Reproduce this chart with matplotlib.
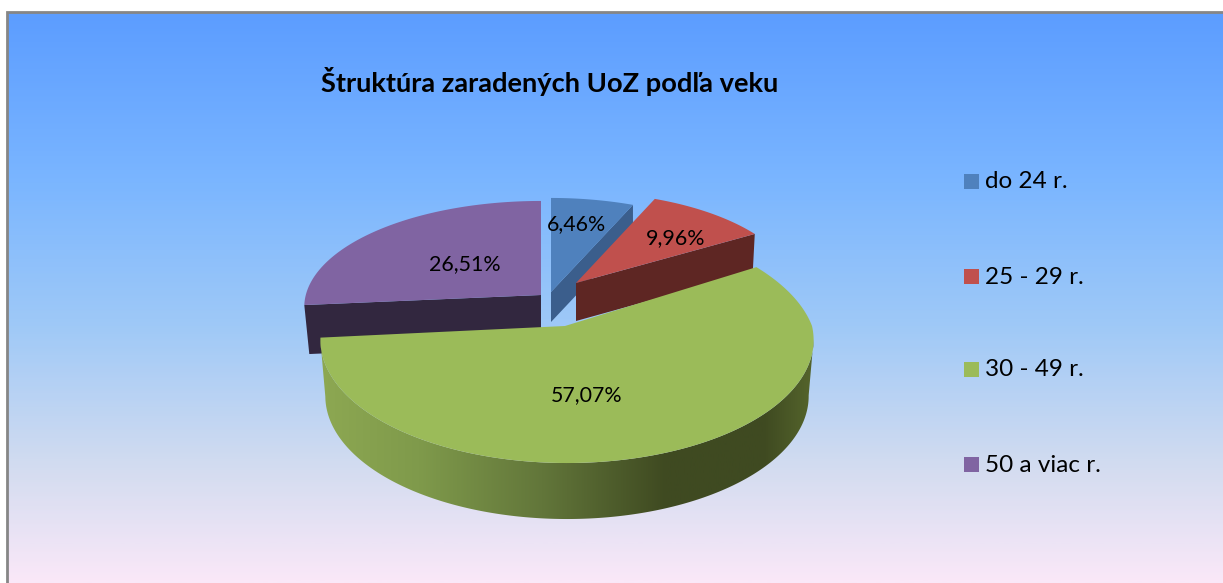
import numpy as np
import matplotlib
matplotlib.use('Agg')
import matplotlib.pyplot as plt
from matplotlib.colors import LinearSegmentedColormap
from matplotlib.patches import Polygon

plt.rcParams['font.family'] = ['Lato', 'DejaVu Sans']

title = 'Štruktúra zaradených UoZ podľa veku'
categories = ['do 24 r.', '25 - 29 r.', '30 - 49 r.', '50 a viac r.']
values = [6.46, 9.96, 57.07, 26.51]
top_colors = ['#4F81BD', '#C0504D', '#9BBB59', '#8064A2']
wall_colors = ['#3B5E8C', '#5E2623', None, '#32273F']

W, H = 1223, 583
A, B, K = 245, 121.4, 0.114  # pie radii in px, perspective

# x, y of slice apex, x scale, y scale, wall depth, x skew, rim centre x
slice_pos = [
    (551, 292, 0.936, 0.863, 30, 0, 551),
    (576, 283, 0.90, 0.833, 38, 0, 576),
    (565, 326, 1.0, 1.0, 56, 18, 567),
    (541, 295, 0.96, 0.863, 49, 0, 541),
]
label_pos = [(577, 224), (676, 238), (587, 395), (465, 264)]
legend_y = [182, 277, 370, 465]


def rim(t, pos):
    ax_, ay, sa, sb, depth, skew, cx = pos
    X, Y = np.sin(t), np.cos(t)
    s = 1 / (1 + K * Y)
    return (cx + sa * A * X * s - skew * np.maximum(Y, 0),
            ay - sb * B * Y * s)


fig = plt.figure(figsize=(W / 100, H / 100), dpi=100)
ax = fig.add_axes([0, 0, 1, 1])

# background
bg = LinearSegmentedColormap.from_list('bg', [
    (0, '#5C9DFF'), (0.3, '#7BB6FF'), (0.55, '#9FC9F7'),
    (0.8, '#D3DCF0'), (1, '#FAE8F8')])
ax.imshow(np.linspace(0, 1, 300)[:, None], cmap=bg, aspect='auto',
          extent=(7, W, H, 12), zorder=0)
ax.plot([6.5, 6.5, W], [H, 11.5, 11.5], color='#868686', lw=2, zorder=1,
        solid_joinstyle='miter')

wall_cmap = LinearSegmentedColormap.from_list('wall', [
    (0, '#55652C'), (0.1, '#3F4A21'), (0.3, '#3F4A21'), (0.55, '#62763A'),
    (0.8, '#7F9A4B'), (1, '#8DA852')])

angles = np.radians(np.cumsum([0] + values) * 3.6)
order = [0, 3, 1, 2]
for n, i in enumerate(order):
    pos = slice_pos[i]
    ax_, ay, sa, sb, depth, skew, cx = pos
    t = np.linspace(angles[i], angles[i + 1], 300)
    x, y = rim(t, pos)
    if i == 2:
        # outer wall of the big slice, shaded across its width
        bx = cx + (x - cx) * 0.98
        by = y + depth
        front = (t >= t[np.argmax(x)]) & (t <= t[np.argmin(x)])
        wall = np.r_[np.c_[x[front], y[front]],
                     np.c_[bx[front], by[front]][::-1]]
        clip = Polygon(wall, closed=True, fc='none', ec='none', zorder=3)
        ax.add_patch(clip)
        im = ax.imshow(np.linspace(1, 0, 256)[None, :], cmap=wall_cmap,
                       aspect='auto', extent=(x.min(), x.max(), H, 0),
                       zorder=3)
        im.set_clip_path(clip)
    else:
        # flat cut face below the visible edge
        k = 0 if i == 3 else -1
        dx = 5 if i == 3 else -2 if i == 1 else 0
        face = [(x[k], y[k]), (x[k] + dx, y[k] + depth),
                (ax_, ay + depth), (ax_, ay)]
        ax.add_patch(Polygon(face, closed=True, fc=wall_colors[i],
                             ec='none', zorder=2 + 0.1 * n))
    top = np.r_[[[ax_, ay]], np.c_[x, y]]
    ax.add_patch(Polygon(top, closed=True, fc=top_colors[i], ec='none',
                         zorder=4 if i == 2 else 2.05 + 0.1 * n))

for i in range(len(values)):
    lx, ly = label_pos[i]
    ax.text(lx, ly, f'{values[i]:.2f}%'.replace('.', ','), ha='center',
            va='center', fontsize=15.4, color='black', zorder=5)
    ax.add_patch(Polygon([(964, legend_y[i] - 8), (979, legend_y[i] - 8),
                          (979, legend_y[i] + 7), (964, legend_y[i] + 7)],
                         closed=True, fc=top_colors[i], ec='none', zorder=5))
    ax.text(985, legend_y[i], categories[i], ha='left', va='center',
            fontsize=17.5, color='black', zorder=5)

ax.text(321, 82, title, ha='left', va='center', fontsize=19.6,
        fontweight='bold', color='black', zorder=5)
ax.set_xlim(0, W)
ax.set_ylim(H, 0)
ax.axis('off')
fig.savefig('out.png', dpi=100)
